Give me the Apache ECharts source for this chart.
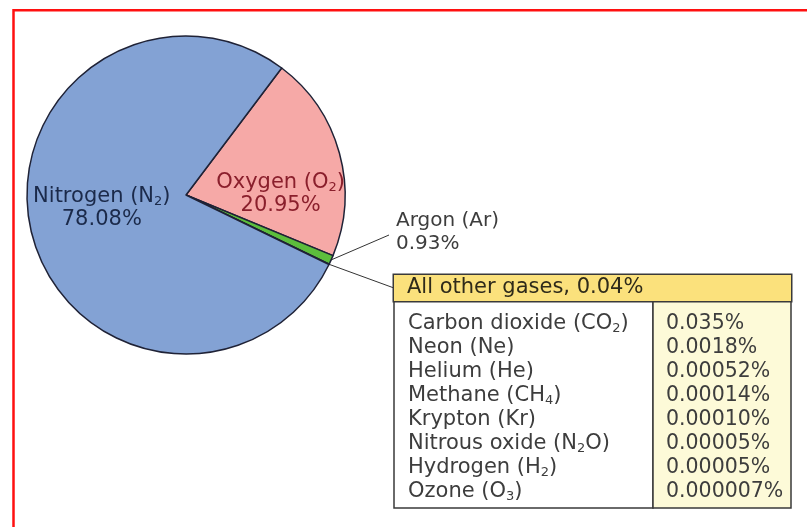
<!DOCTYPE html>
<html><head><meta charset="utf-8">
<script src="https://cdn.jsdelivr.net/npm/echarts@6/dist/echarts.min.js"></script>
<style>html,body{margin:0;padding:0;background:#fff}#c{width:807px;height:527px}</style>
</head><body><div id="c"></div>
<script>
// ---- data ----
const sliceNames = ['Oxygen (O_2)', 'Argon (Ar)', 'All other gases', 'Nitrogen (N_2)'];
const sliceValues = [20.95, 0.93, 0.04, 78.08];
const sliceLabels = ['20.95%', '0.93%', '0.04%', '78.08%'];
const sliceColors = ['#f6a9a7', '#5cbd3c', '#1c1c24', '#83a2d4'];
const otherGasNames = ['Carbon dioxide (CO_2)', 'Neon (Ne)', 'Helium (He)', 'Methane (CH_4)', 'Krypton (Kr)', 'Nitrous oxide (N_2O)', 'Hydrogen (H_2)', 'Ozone (O_3)'];
const otherGasValues = ['0.035%', '0.0018%', '0.00052%', '0.00014%', '0.00010%', '0.00005%', '0.00005%', '0.000007%'];
const otherHeader = 'All other gases, 0.04%';

const FONT = '"DejaVu Sans", sans-serif';
function toRich(s, t, sub) {
  return '{' + t + '|' + s.replace(/_(\d)/g, '}{' + sub + '|$1}{' + t + '|') + '}';
}
function richSet(color, size, lh) {
  const o = {};
  o.t = {fontFamily: FONT, fontSize: size, lineHeight: lh, color: color, fill: color};
  o.s = {fontFamily: FONT, fontSize: Math.round(size * 0.62), lineHeight: lh - 9, padding: [9, 0, 0, 0], color: color, fill: color};
  return o;
}

const chart = echarts.init(document.getElementById('c'), null, {renderer: 'canvas'});

const tblX = 394, tblRight = 791, colX = 653, hdrTop = 275, bodyTop = 301, bodyBottom = 508;
const rowStart = 324, rowStep = 24;
const textGrey = '#3d3d3d';

const graphics = [
  {type: 'rect', z: 0, shape: {x: 13.5, y: 10.2, width: 900, height: 600},
   style: {fill: 'none', stroke: '#ff1010', lineWidth: 2.5}},
  {type: 'rect', z: 1, shape: {x: tblX, y: bodyTop, width: colX - tblX, height: bodyBottom - bodyTop},
   style: {fill: '#ffffff', stroke: '#3a3a3a', lineWidth: 1.5}},
  {type: 'rect', z: 1, shape: {x: colX, y: bodyTop, width: tblRight - colX, height: bodyBottom - bodyTop},
   style: {fill: '#fdfad8', stroke: '#3a3a3a', lineWidth: 1.5}}
];
otherGasNames.forEach(function (n, i) {
  graphics.push({type: 'text', z: 2, x: 408, y: rowStart + i * rowStep,
    style: {text: toRich(n, 't', 's'), rich: richSet(textGrey, 21, 24), fill: textGrey, verticalAlign: 'middle', align: 'left'}});
  graphics.push({type: 'text', z: 2, x: 666, y: rowStart + i * rowStep,
    style: {text: otherGasValues[i], fontFamily: FONT, fontSize: 20.5, fill: textGrey, verticalAlign: 'middle', align: 'left'}});
});

const pieData = sliceNames.map(function (n, i) {
  const d = {name: n, value: sliceValues[i], itemStyle: {color: sliceColors[i]}};
  if (i === 0 || i === 3) {
    const c = i === 0 ? '#8a1f2c' : '#1b2a4a';
    d.label = {show: true, position: 'inside', align: 'center',
      formatter: toRich(n, 't', 's') + '\n{t|' + sliceLabels[i] + '}', rich: richSet(c, 21, 23)};
  } else if (i === 1) {
    d.label = {show: true, position: 'outside', align: 'left',
      formatter: '{t|' + n + '}\n{t|' + sliceLabels[i] + '}', rich: richSet(textGrey, 20, 23)};
    d.labelLine = {show: true, lineStyle: {color: '#333', width: 1}};
  } else if (i === 2) {
    d.label = {show: true, position: 'outside', align: 'left',
      formatter: '{h|' + otherHeader + '}',
      rich: {h: {fontFamily: FONT, fontSize: 21, lineHeight: 24, color: '#2e2a1a'}},
      backgroundColor: '#fbe17c', borderColor: '#3a3a3a', borderWidth: 1.5,
      padding: [1, 10, 1, 13], width: tblRight - tblX - 23};
    d.labelLine = {show: true, lineStyle: {color: '#333', width: 1}};
  }
  return d;
});

chart.setOption({
  animation: false,
  graphic: graphics,
  series: [{
    type: 'pie',
    center: [186, 195],
    radius: 159,
    startAngle: 53,
    clockwise: true,
    avoidLabelOverlap: false,
    itemStyle: {borderColor: '#1f2236', borderWidth: 1.5},
    label: {show: false},
    labelLine: {show: false},
    data: pieData,
    labelLayout: function (p) {
      const i = p.dataIndex;
      const s = p.labelLinePoints ? p.labelLinePoints[0] : null;
      if (i === 0) return {dx: 15, dy: 21};
      if (i === 3) return {dx: -4, dy: -6};
      if (i === 1 && s) return {x: 396, y: 232, align: 'left', verticalAlign: 'middle',
        labelLinePoints: [s, [389, 235], [389, 235]]};
      if (i === 2 && s) return {x: tblX, y: hdrTop, align: 'left', verticalAlign: 'top',
        labelLinePoints: [s, [tblX, 288], [tblX, 288]]};
      return {};
    }
  }]
});
</script></body></html>
